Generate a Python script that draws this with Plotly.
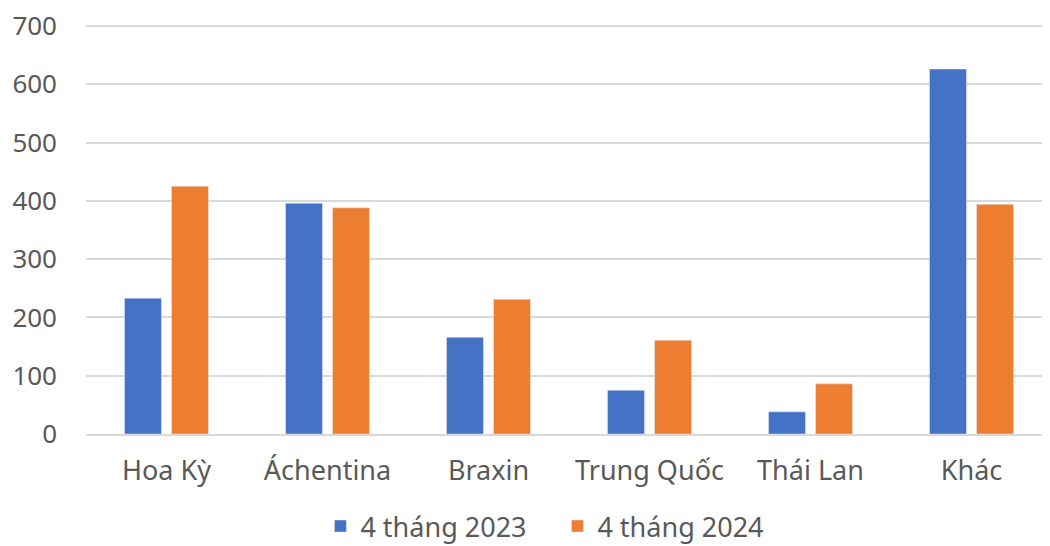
import plotly.graph_objects as go

categories = ["Hoa Kỳ", "Áchentina", "Braxin", "Trung Quốc", "Thái Lan", "Khác"]
values_2023 = [233, 396, 166, 75, 38, 626]
values_2024 = [425, 388, 231, 161, 86, 394]

fig = go.Figure()
fig.add_trace(go.Bar(x=categories, y=values_2023, name="4 tháng 2023",
                     marker=dict(color="#4472c4")))
fig.add_trace(go.Bar(x=categories, y=values_2024, name="4 tháng 2024",
                     marker=dict(color="#ed7d31")))

# page body has an 8px margin, so margins are shifted to line up with the reference
fig.update_layout(
    width=1050, height=546,
    barmode="group", bargap=0.416, bargroupgap=0.213,
    margin=dict(l=78, r=6, t=15, b=120, autoexpand=False),
    plot_bgcolor="white", paper_bgcolor="white",
    font=dict(family="Noto Sans", size=27, color="#595959"),
    legend=dict(orientation="h", x=0.488, xanchor="center", y=-0.225, yanchor="middle",
                font=dict(size=27), itemwidth=30, tracegroupgap=0, entrywidth=192),
    xaxis=dict(showgrid=False, showline=True, linecolor="#d9d9d9", linewidth=2,
               automargin=False, ticklabelstandoff=12, tickfont=dict(size=27)),
    yaxis=dict(range=[0, 705], tickvals=[0, 100, 200, 300, 400, 500, 600, 700],
               showgrid=True, gridcolor="#d9d9d9", gridwidth=2,
               automargin=False, zeroline=False, showline=False,
               ticklabeloverflow="allow",
               ticklabelstandoff=28, tickfont=dict(size=26)),
)

fig.write_html("out.html")
